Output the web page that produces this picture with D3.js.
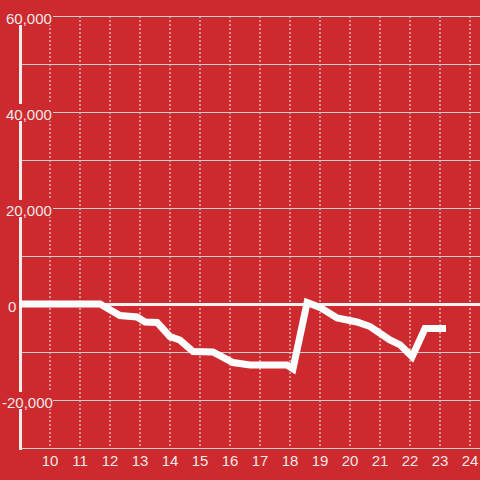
<!DOCTYPE html>
<html>
<head>
<meta charset="utf-8">
<script src="https://cdn.jsdelivr.net/npm/d3@7"></script>
<style>
  html, body { margin: 0; padding: 0; background: #cc2a2f; }
  svg { display: block; font-family: "Liberation Sans", Arial, sans-serif; }
</style>
</head>
<body>
<div id="chart"></div>
<script>
// data: hour of day vs. value
var hours  = [9.0, 11.67, 12.33, 12.9, 13.17, 13.57, 14.0, 14.33, 14.77, 15.43, 16.1, 16.67, 17.9, 18.1,
              18.57, 19.0, 19.57, 20.23, 20.67, 21.33, 21.67, 22.07, 22.5, 23.2];
var values = [0, 0, -2400, -2700, -3750, -3850, -6800, -7500, -9900, -10000, -12200, -12700, -12700, -13500,
              300, -700, -2900, -3750, -4700, -7500, -8500, -11000, -5100, -5100];
var xTicks = [10, 11, 12, 13, 14, 15, 16, 17, 18, 19, 20, 21, 22, 23, 24];
var yGrid  = [-30000, -20000, -10000, 0, 10000, 20000, 30000, 40000, 50000, 60000];
var yLabels = [60000, 40000, 20000, 0, -20000];

var width = 480, height = 480;
var bg = "#cc2a2f";

var svg = d3.select("#chart")
    .append("svg")
        .attr("width", width)
        .attr("height", height);

var x = d3.scaleLinear()
    .domain([9, 24 + 1 / 3])
    .range([20, 480]);

var y = d3.scaleLinear()
    .domain([-30000, 60000])
    .range([448, 16]);

svg.append("rect")
    .attr("width", width)
    .attr("height", height)
    .attr("fill", bg);

// vertical dotted grid
svg.append("g")
    .selectAll("line")
    .data(xTicks)
    .enter()
    .append("line")
        .attr("x1", function(d) { return x(d); })
        .attr("x2", function(d) { return x(d); })
        .attr("y1", y(60000))
        .attr("y2", y(-30000))
        .attr("stroke", "#eeeeee")
        .attr("stroke-width", 1)
        .attr("stroke-dasharray", "2,2");

// horizontal grid
svg.append("g")
    .selectAll("line")
    .data(yGrid)
    .enter()
    .append("line")
        .attr("x1", x(9))
        .attr("x2", width)
        .attr("y1", function(d) { return y(d) + 0.5; })
        .attr("y2", function(d) { return y(d) + 0.5; })
        .attr("stroke", function(d) { return d === 0 ? "#f4f0f0" : "#cfcfcf"; })
        .attr("stroke-width", function(d) { return d === 0 ? 3 : 1; });

// y axis line
svg.append("line")
    .attr("x1", x(9) + 0.5)
    .attr("x2", x(9) + 0.5)
    .attr("y1", y(60000))
    .attr("y2", y(-30000) + 2)
    .attr("stroke", "#eeeeee")
    .attr("stroke-width", 3);

// y labels with background so they cut the axis and grid
var fmt = d3.format(",");
var yl = svg.append("g")
    .selectAll("g")
    .data(yLabels)
    .enter()
    .append("g")
    .attr("transform", function(d) { return "translate(0," + y(d) + ")"; });

yl.append("rect")
    .attr("x", 0)
    .attr("y", -8)
    .attr("width", function(d) { return d === 0 ? 18 : 53; })
    .attr("height", 17)
    .attr("fill", bg);

yl.append("text")
    .attr("x", function(d) { return d < 0 ? 2 : (d === 0 ? 8 : 6); })
    .attr("y", 7.5)
    .attr("fill", "#f3e6e6")
    .attr("font-size", 15)
    .text(function(d) { return fmt(d).replace("−", "-"); });

// x labels
svg.append("g")
    .selectAll("text")
    .data(xTicks)
    .enter()
    .append("text")
        .attr("x", function(d) { return x(d); })
        .attr("y", 466)
        .attr("text-anchor", "middle")
        .attr("fill", "#f3e6e6")
        .attr("font-size", 15)
        .text(function(d) { return d; });

// the series line
var line = d3.line()
    .x(function(d, i) { return x(hours[i]); })
    .y(function(d) { return y(d); });

svg.append("path")
    .datum(values)
    .attr("d", line)
    .attr("fill", "none")
    .attr("stroke", "#ffffff")
    .attr("stroke-width", 7)
    .attr("stroke-linejoin", "miter");
</script>
</body>
</html>
